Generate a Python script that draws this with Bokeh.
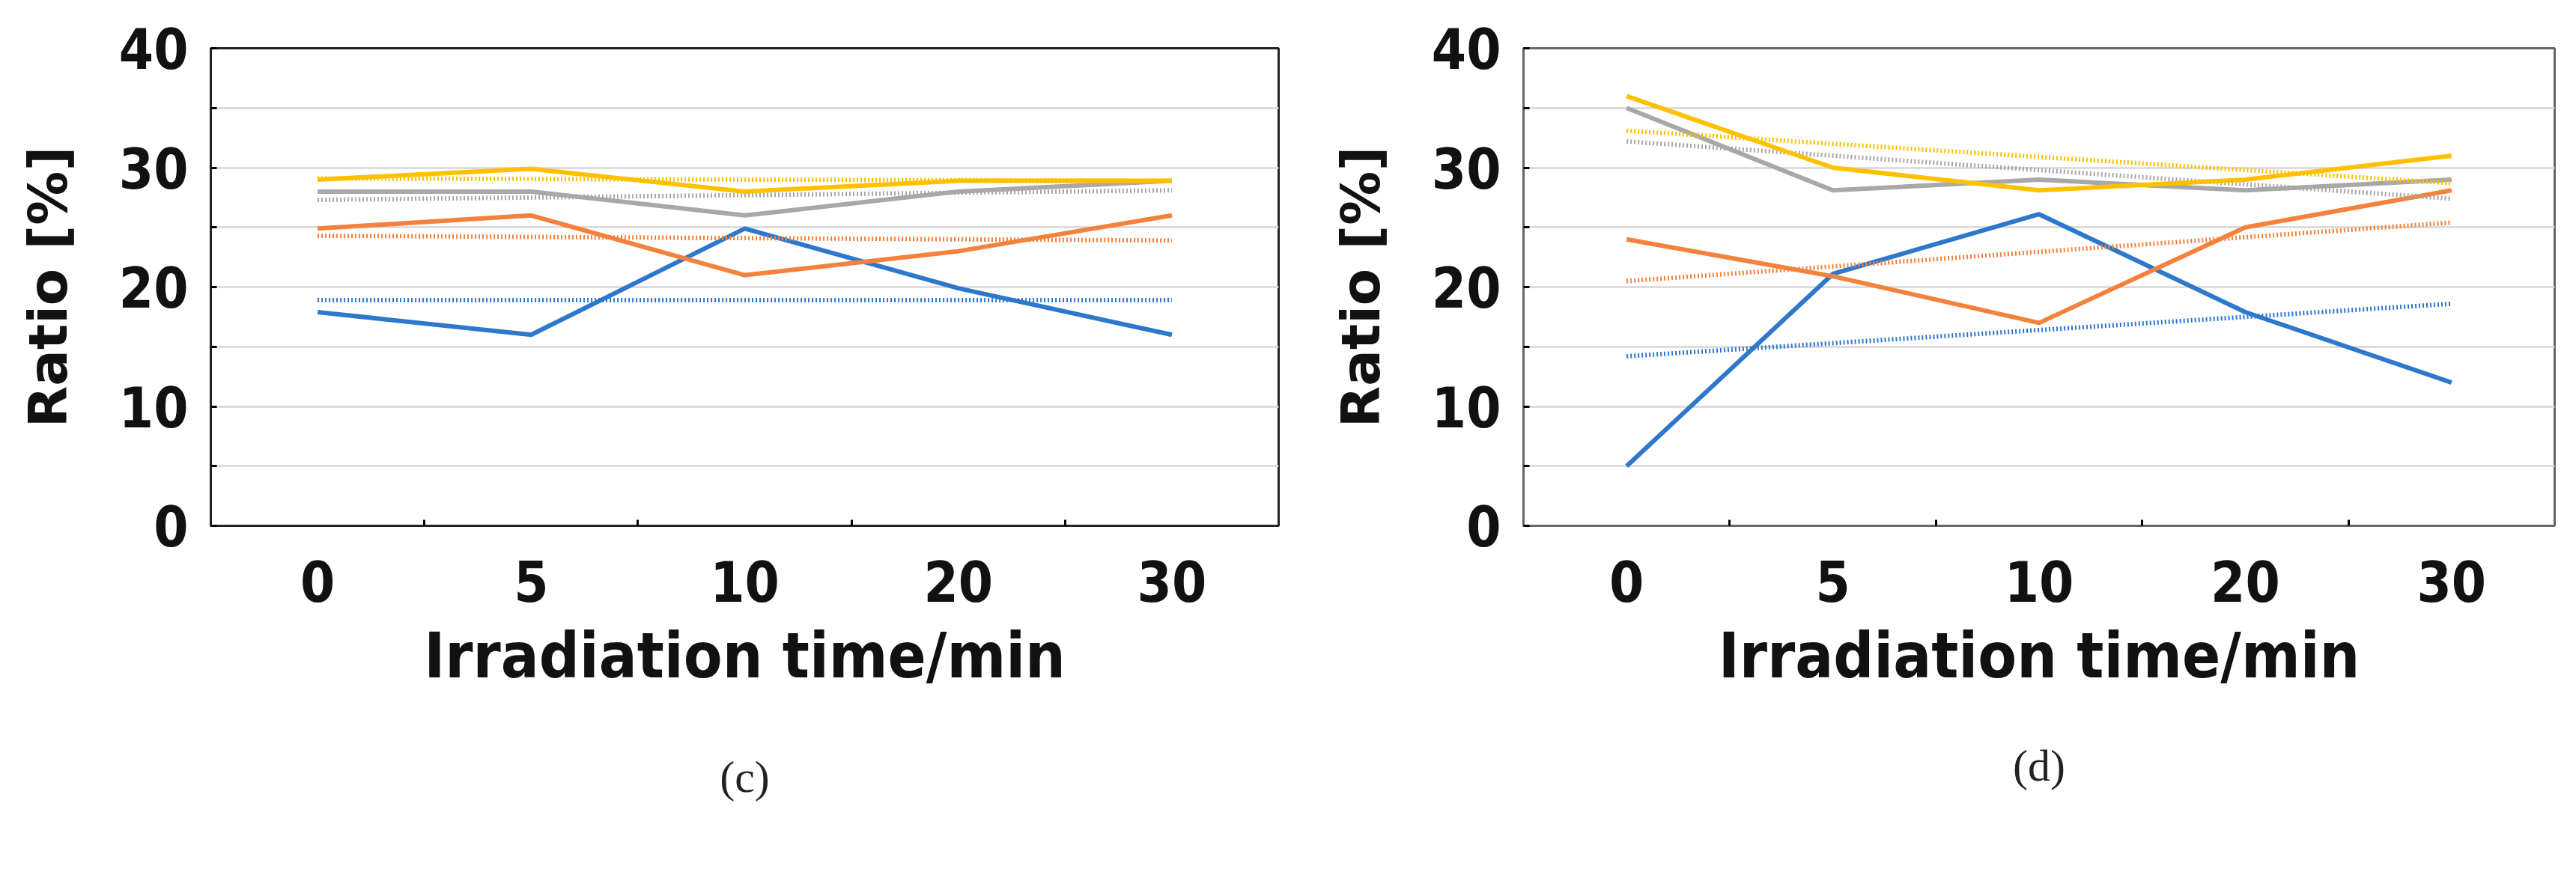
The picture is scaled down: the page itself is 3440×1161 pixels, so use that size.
from bokeh.plotting import figure
from bokeh.layouts import row
from bokeh.models import FixedTicker, Range1d, Title
from bokeh.embed import file_html
from bokeh.resources import INLINE

cats = ["0", "5", "10", "20", "30"]
xpos = [0, 1, 2, 3, 4]
# panel (c)
c_blue = [17.9, 16.0, 24.9, 19.9, 16.0]
c_orange = [24.9, 26.0, 21.0, 23.0, 26.0]
c_gray = [28.0, 28.0, 26.0, 28.0, 28.9]
c_yellow = [29.0, 29.9, 28.0, 28.9, 28.9]
c_trend = {"blue": [18.9, 18.9], "orange": [24.3, 23.9], "gray": [27.3, 28.1], "yellow": [29.1, 28.9]}
# panel (d)
d_blue = [5.0, 21.1, 26.1, 17.9, 12.0]
d_orange = [24.0, 20.9, 17.0, 25.0, 28.1]
d_gray = [35.0, 28.1, 29.0, 28.1, 29.0]
d_yellow = [36.0, 30.0, 28.1, 29.0, 31.0]
d_trend = {"blue": [14.2, 18.6], "orange": [20.5, 25.4], "gray": [32.2, 27.4], "yellow": [33.1, 28.7]}
trend_x = [0, 4]
ytick_vals = [0, 5, 10, 15, 20, 25, 30, 35, 40]
ytick_labels = {0: "0", 10: "10", 20: "20", 30: "30", 40: "40"}

COL = {"blue": "#2E78CC", "orange": "#F5823C", "gray": "#A8A8A8", "yellow": "#FFC000"}
TFONT = "Liberation Sans Narrow, DejaVu Sans Condensed, sans-serif"


def panel(series, trend, caption, bl, br, bt, bb, outline):
    p = figure(width=1712, height=1145, output_backend="svg", toolbar_location=None,
               x_range=Range1d(-0.5, 4.5), y_range=Range1d(0, 40),
               min_border_left=bl, min_border_right=br, min_border_top=bt, min_border_bottom=0)
    p.outline_line_color = outline
    p.outline_line_width = 3
    p.xgrid.visible = False
    p.ygrid.grid_line_color = "#DDDDDD"
    p.ygrid.grid_line_width = 3
    p.yaxis.ticker = FixedTicker(ticks=ytick_vals)
    p.yaxis.major_label_overrides = {v: ytick_labels.get(v, "") for v in ytick_vals}
    p.xaxis.ticker = FixedTicker(ticks=xpos, minor_ticks=[0.5, 1.5, 2.5, 3.5])
    p.xaxis.major_label_overrides = {i: c for i, c in zip(xpos, cats)}
    for ax in (p.xaxis, p.yaxis):
        ax.axis_line_color = None
        ax.major_label_text_font = TFONT
        ax.major_label_text_font_style = "bold"
        ax.major_label_text_font_size = "74px"
        ax.major_label_text_color = "#111111"
        ax.axis_label_text_color = "#111111"
    p.xaxis.major_tick_line_color = None
    p.xaxis.minor_tick_in = 8
    p.xaxis.minor_tick_out = 0
    p.xaxis.minor_tick_line_width = 3
    p.xaxis.major_label_standoff = 40
    p.yaxis.major_tick_in = 8
    p.yaxis.major_tick_out = 0
    p.yaxis.major_tick_line_width = 3
    p.yaxis.minor_tick_line_color = None
    p.yaxis.major_label_standoff = 30
    p.xaxis.axis_label = "Irradiation time/min"
    p.xaxis.axis_label_text_font = TFONT
    p.xaxis.axis_label_text_font_style = "bold"
    p.xaxis.axis_label_text_font_size = "84px"
    p.xaxis.axis_label_standoff = 20
    p.yaxis.axis_label = "Ratio [%]"
    p.yaxis.axis_label_text_font = "DejaVu Sans"
    p.yaxis.axis_label_text_font_style = "bold"
    p.yaxis.axis_label_text_font_size = "72px"
    p.yaxis.axis_label_standoff = 50
    for name, vals in series:
        p.line(xpos, vals, line_color=COL[name], line_width=6)
        p.line(trend_x, trend[name], line_color=COL[name], line_width=6, line_dash="2 3")
    p.add_layout(Title(text=caption, align="center", text_font="Liberation Serif",
                       text_font_size="60px", text_font_style="normal", text_color="#222222",
                       standoff=bb), "below")
    return p


pc = panel([("blue", c_blue), ("orange", c_orange), ("gray", c_gray), ("yellow", c_yellow)],
           c_trend, "(c)", 281, 5, 34, 150, "#222222")
pd_ = panel([("blue", d_blue), ("orange", d_orange), ("gray", d_gray), ("yellow", d_yellow)],
            d_trend, "(d)", 322, 13, 64, 120, "#666666")
layout = row(pc, pd_, spacing=0)
open("out.html", "w").write(file_html(layout, INLINE))
